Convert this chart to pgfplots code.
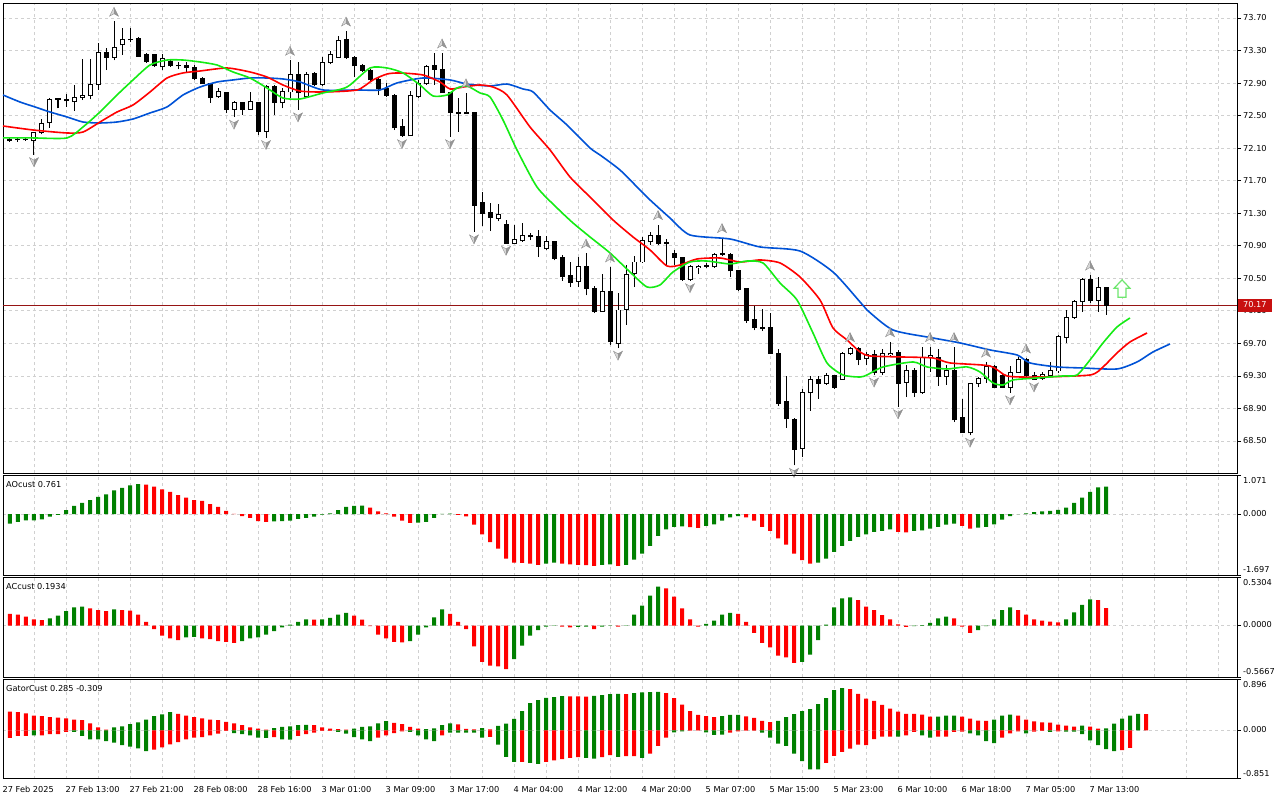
\documentclass[border=0pt]{standalone}
\usepackage{fontspec}
\setmainfont{DejaVu Sans}
\usepackage{pgfplots}
\usepackage{pgfplotstable}
\pgfplotsset{compat=1.18}

\definecolor{aogreen}{RGB}{0,128,0}
\definecolor{aored}{RGB}{255,0,0}
\definecolor{jawblue}{RGB}{0,82,214}
\definecolor{teethred}{RGB}{255,0,0}
\definecolor{lipsgreen}{RGB}{20,235,20}
\definecolor{gridgray}{RGB}{208,208,208}
\definecolor{tagred}{RGB}{200,16,16}
\definecolor{priceline}{RGB}{150,20,20}
\definecolor{fraclight}{RGB}{215,215,215}
\definecolor{fracdark}{RGB}{150,150,150}
\definecolor{fracedge}{RGB}{140,140,140}
\definecolor{arrowgreen}{RGB}{110,230,110}

\newcommand{\lbl}{\fontsize{8.2}{9.8}\selectfont}

\pgfdeclareplotmark{nothing}{}
\pgfdeclareplotmark{fup}{%
  \pgfsetfillcolor{fraclight}%
  \pgfpathmoveto{\pgfqpoint{0pt}{14pt}}%
  \pgfpathlineto{\pgfqpoint{0pt}{7.5pt}}%
  \pgfpathlineto{\pgfqpoint{-4.5pt}{5pt}}%
  \pgfpathclose\pgfusepath{fill}%
  \pgfsetfillcolor{fracdark}%
  \pgfpathmoveto{\pgfqpoint{0pt}{14pt}}%
  \pgfpathlineto{\pgfqpoint{4.5pt}{5pt}}%
  \pgfpathlineto{\pgfqpoint{0pt}{7.5pt}}%
  \pgfpathclose\pgfusepath{fill}%
  \pgfsetlinewidth{0.4pt}\pgfsetstrokecolor{fracedge}%
  \pgfpathmoveto{\pgfqpoint{0pt}{14pt}}%
  \pgfpathlineto{\pgfqpoint{4.5pt}{5pt}}%
  \pgfpathlineto{\pgfqpoint{0pt}{7.5pt}}%
  \pgfpathlineto{\pgfqpoint{-4.5pt}{5pt}}%
  \pgfpathclose\pgfusepath{stroke}%
}
\pgfdeclareplotmark{fdown}{%
  \pgfsetfillcolor{fraclight}%
  \pgfpathmoveto{\pgfqpoint{0pt}{-12pt}}%
  \pgfpathlineto{\pgfqpoint{0pt}{-5.5pt}}%
  \pgfpathlineto{\pgfqpoint{-4.5pt}{-3pt}}%
  \pgfpathclose\pgfusepath{fill}%
  \pgfsetfillcolor{fracdark}%
  \pgfpathmoveto{\pgfqpoint{0pt}{-12pt}}%
  \pgfpathlineto{\pgfqpoint{4.5pt}{-3pt}}%
  \pgfpathlineto{\pgfqpoint{0pt}{-5.5pt}}%
  \pgfpathclose\pgfusepath{fill}%
  \pgfsetlinewidth{0.4pt}\pgfsetstrokecolor{fracedge}%
  \pgfpathmoveto{\pgfqpoint{0pt}{-12pt}}%
  \pgfpathlineto{\pgfqpoint{4.5pt}{-3pt}}%
  \pgfpathlineto{\pgfqpoint{0pt}{-5.5pt}}%
  \pgfpathlineto{\pgfqpoint{-4.5pt}{-3pt}}%
  \pgfpathclose\pgfusepath{stroke}%
}
\pgfdeclareplotmark{garrow}{%
  \pgfsetlinewidth{1.2pt}%
  \pgfsetstrokecolor{arrowgreen}\pgfsetfillcolor{white}%
  \pgfpathmoveto{\pgfqpoint{0pt}{9pt}}%
  \pgfpathlineto{\pgfqpoint{8pt}{0.5pt}}%
  \pgfpathlineto{\pgfqpoint{4pt}{0.5pt}}%
  \pgfpathlineto{\pgfqpoint{4pt}{-8.5pt}}%
  \pgfpathlineto{\pgfqpoint{-4pt}{-8.5pt}}%
  \pgfpathlineto{\pgfqpoint{-4pt}{0.5pt}}%
  \pgfpathlineto{\pgfqpoint{-8pt}{0.5pt}}%
  \pgfpathclose\pgfusepath{fill,stroke}%
}

\pgfplotstableread{
i O H L C
0 72.21 72.23 72.18 72.19
1 72.20 72.23 72.18 72.21
2 72.21 72.23 72.19 72.20
3 72.19 72.30 72.02 72.29
4 72.29 72.46 72.27 72.40
5 72.41 72.72 72.35 72.70
6 72.70 72.72 72.59 72.71
7 72.70 72.77 72.61 72.68
8 72.67 72.88 72.56 72.72
9 72.72 73.20 72.69 72.75
10 72.75 73.20 72.70 72.88
11 72.88 73.39 72.82 73.28
12 73.28 73.33 73.06 73.22
13 73.22 73.66 73.18 73.34
14 73.37 73.58 73.25 73.44
15 73.44 73.58 73.40 73.43
16 73.45 73.46 73.23 73.23
17 73.25 73.27 73.15 73.16
18 73.25 73.26 73.10 73.11
19 73.10 73.26 73.06 73.20
20 73.17 73.20 73.10 73.11
21 73.11 73.16 73.07 73.11
22 73.11 73.16 73.04 73.09
23 73.09 73.12 72.94 72.95
24 72.96 72.97 72.89 72.89
25 72.89 72.89 72.66 72.72
26 72.73 72.84 72.72 72.80
27 72.78 72.79 72.53 72.58
28 72.58 72.68 72.48 72.66
29 72.66 72.67 72.51 72.58
30 72.58 72.79 72.58 72.67
31 72.66 72.67 72.26 72.31
32 72.31 72.88 72.23 72.86
33 72.86 72.88 72.51 72.66
34 72.66 72.84 72.59 72.80
35 72.79 73.18 72.72 73.00
36 73.00 73.16 72.57 72.78
37 72.73 73.04 72.72 73.01
38 73.02 73.04 72.86 72.88
39 72.88 73.22 72.86 73.15
40 73.15 73.29 73.13 73.25
41 73.22 73.48 73.21 73.42
42 73.43 73.54 73.20 73.21
43 73.22 73.23 72.97 73.11
44 73.12 73.13 73.04 73.06
45 73.06 73.07 72.91 72.94
46 72.94 72.96 72.75 72.83
47 72.83 72.90 72.73 72.75
48 72.75 72.76 72.32 72.35
49 72.37 72.46 72.24 72.26
50 72.25 72.80 72.25 72.75
51 72.73 72.94 72.72 72.89
52 72.89 73.12 72.88 73.10
53 73.11 73.27 72.88 73.07
54 73.07 73.27 72.78 72.78
55 72.78 72.79 72.24 72.54
56 72.54 72.72 72.30 72.53
57 72.53 72.78 72.52 72.54
58 72.54 72.55 71.07 71.40
59 71.43 71.56 71.14 71.30
60 71.31 71.43 71.08 71.25
61 71.24 71.41 71.20 71.28
62 71.16 71.22 70.93 70.93
63 70.93 71.16 70.93 70.98
64 70.96 71.18 70.95 71.03
65 71.03 71.06 70.97 71.01
66 71.01 71.09 70.76 70.89
67 70.86 71.02 70.85 70.95
68 70.95 70.95 70.72 70.74
69 70.76 70.79 70.47 70.52
70 70.53 70.70 70.39 70.45
71 70.46 70.76 70.39 70.64
72 70.64 70.81 70.29 70.38
73 70.38 70.41 70.07 70.09
74 70.09 70.55 70.09 70.34
75 70.34 70.64 69.68 69.72
76 69.70 70.32 69.64 70.11
77 70.12 70.66 69.93 70.55
78 70.56 70.77 70.39 70.70
79 70.70 71.01 70.69 70.96
80 70.95 71.07 70.91 71.02
81 71.03 71.16 70.91 70.93
82 70.94 70.98 70.65 70.93
83 70.81 70.85 70.66 70.75
84 70.75 70.76 70.47 70.48
85 70.48 70.66 70.47 70.64
86 70.63 70.66 70.55 70.65
87 70.65 70.69 70.63 70.66
88 70.64 70.81 70.63 70.79
89 70.79 71.00 70.77 70.80
90 70.79 70.81 70.52 70.59
91 70.60 70.60 70.34 70.36
92 70.37 70.38 69.95 69.98
93 69.99 70.16 69.86 69.89
94 69.89 70.12 69.85 69.88
95 69.89 70.07 69.58 69.58
96 69.58 69.63 68.93 68.96
97 68.98 69.30 68.66 68.77
98 68.77 68.78 68.20 68.40
99 68.41 69.14 68.30 69.09
100 69.09 69.30 68.87 69.26
101 69.25 69.30 69.02 69.21
102 69.21 69.34 69.19 69.30
103 69.30 69.31 69.14 69.16
104 69.26 69.59 69.25 69.57
105 69.57 69.66 69.56 69.64
106 69.64 69.66 69.43 69.50
107 69.51 69.59 69.43 69.56
108 69.56 69.62 69.31 69.34
109 69.34 69.63 69.31 69.57
110 69.56 69.72 69.54 69.58
111 69.59 69.62 68.92 69.21
112 69.22 69.43 69.04 69.37
113 69.37 69.40 69.04 69.10
114 69.09 69.66 69.08 69.52
115 69.52 69.66 69.35 69.55
116 69.52 69.63 69.18 69.29
117 69.29 69.43 69.19 69.37
118 69.37 69.66 68.73 68.76
119 68.79 69.02 68.60 68.60
120 68.60 69.21 68.57 69.21
121 69.21 69.29 69.16 69.27
122 69.27 69.47 69.21 69.41
123 69.41 69.43 69.15 69.16
124 69.31 69.32 69.15 69.16
125 69.16 69.42 69.09 69.34
126 69.34 69.53 69.34 69.50
127 69.50 69.52 69.29 69.31
128 69.31 69.35 69.25 69.26
129 69.27 69.35 69.25 69.32
130 69.31 69.47 69.30 69.37
131 69.36 69.80 69.34 69.78
132 69.77 70.11 69.70 70.02
133 70.02 70.23 70.00 70.21
134 70.21 70.50 70.09 70.48
135 70.48 70.54 70.20 70.23
136 70.23 70.52 70.09 70.39
137 70.39 70.39 70.05 70.17
}\candles

\pgfplotstableread{
i p
13 73.66
35 73.18
42 73.54
54 73.27
57 72.78
72 70.81
75 70.64
81 71.16
89 71.00
105 69.66
110 69.72
115 69.66
118 69.66
122 69.47
127 69.52
135 70.54
}\fracup

\pgfplotstableread{
i p
3 72.02
28 72.48
32 72.23
36 72.57
49 72.24
55 72.24
58 71.07
62 70.93
76 69.64
85 70.47
98 68.20
108 69.31
111 68.92
120 68.57
125 69.09
128 69.25
}\fracdown

\pgfplotstableread{
i p
-0.875 72.753
1.25 72.667
3.125 72.606
5 72.544
7.125 72.483
9.125 72.421
11.25 72.409
13.375 72.421
15.375 72.458
17.5 72.532
19.625 72.606
21.625 72.753
23.75 72.851
25.875 72.913
27.875 72.938
30 72.962
32.125 72.962
34.125 72.950
36.25 72.913
39.125 72.815
43.375 72.815
46.25 72.815
48.375 72.901
51.625 72.962
55 72.938
57.125 72.888
60 72.864
62.125 72.888
64.125 72.827
65.375 72.791
67.5 72.569
69.625 72.384
72.5 72.102
73.75 72.016
76.25 71.831
78.75 71.585
80 71.463
82.5 71.241
85 71.032
90 70.983
93.75 70.885
98.75 70.835
102.875 70.577
106.25 70.209
107.125 70.110
110.375 69.864
115.375 69.766
118.75 69.705
122.5 69.619
125.875 69.557
127.5 69.459
130.875 69.410
134.125 69.397
138.375 69.385
140.875 69.471
142.875 69.594
145 69.692
}\jaw

\pgfplotstableread{
i p
-0.875 72.372
2.875 72.323
7.125 72.286
9.125 72.298
11.25 72.421
13.375 72.544
15.375 72.630
17.5 72.790
19.625 72.962
21.625 73.024
23.75 73.048
27.125 73.085
30 73.036
32.125 72.974
34.125 72.876
36.25 72.802
39.125 72.790
43.375 72.815
45.375 72.938
47.125 73.011
48.75 73.024
51.625 72.999
53.75 72.913
55 72.827
56.625 72.851
58.75 72.876
60.375 72.851
62.125 72.753
65 72.360
67.5 72.078
70 71.745
72.5 71.499
75.375 71.217
77.875 71.008
80 70.848
82.125 70.651
83.75 70.663
85.875 70.737
88.75 70.749
91.25 70.700
93.75 70.725
96.25 70.688
98.75 70.516
101.25 70.233
102.875 69.889
104.625 69.742
106.25 69.594
107.5 69.545
111.25 69.533
115.375 69.520
117.5 69.459
122.5 69.422
124.625 69.299
128.375 69.286
135 69.311
136.625 69.410
138.375 69.582
140 69.717
142.125 69.827
}\teeth

\pgfplotstableread{
i p
-0.875 72.225
2.875 72.225
7.125 72.225
9.125 72.360
11.25 72.544
13.375 72.753
15.375 72.938
17.5 73.122
19.625 73.183
21.625 73.183
23.75 73.159
25.875 73.122
27.875 73.036
30 72.962
32.125 72.839
34.125 72.716
36.25 72.704
39.125 72.778
42.125 72.851
45 73.085
47.125 73.085
49.125 73.024
51.25 72.876
52.875 72.741
54.625 72.753
55.875 72.839
57.125 72.864
58.75 72.778
60 72.729
61.625 72.446
63.375 72.077
65.875 71.622
68.375 71.365
70.375 71.180
72.5 71.008
75 70.811
77.5 70.577
79.625 70.393
81.25 70.418
82.875 70.577
85 70.700
87.125 70.712
90 70.676
92.125 70.712
94.125 70.688
96.25 70.442
98.375 70.233
100.375 69.827
102.125 69.459
104.125 69.311
106.25 69.286
107.125 69.311
109.125 69.410
112.875 69.471
114.625 69.410
117.125 69.385
119.625 69.410
121.25 69.348
122.875 69.213
124.125 69.188
125.375 69.250
128.375 69.274
131.625 69.299
133.375 69.311
135 69.496
136.625 69.705
138.375 69.901
140 70.012
}\lips

\pgfplotstableread{
i v c
0 -0.26 1
1 -0.21 1
2 -0.17 1
3 -0.17 1
4 -0.14 1
5 -0.07 1
6 -0.02 1
7 0.11 1
8 0.23 1
9 0.31 1
10 0.39 1
11 0.48 1
12 0.55 1
13 0.66 1
14 0.73 1
15 0.80 1
16 0.83 1
17 0.82 0
18 0.76 0
19 0.69 0
20 0.62 0
21 0.53 0
22 0.46 0
23 0.39 0
24 0.37 0
25 0.28 0
26 0.20 0
27 0.09 0
28 0.01 0
29 -0.05 0
30 -0.10 0
31 -0.19 0
32 -0.21 0
33 -0.20 1
34 -0.19 1
35 -0.18 1
36 -0.13 1
37 -0.10 1
38 -0.07 1
39 -0.01 1
40 0.02 1
41 0.11 1
42 0.20 1
43 0.23 1
44 0.24 1
45 0.18 0
46 0.08 0
47 0.02 0
48 -0.07 0
49 -0.18 0
50 -0.24 0
51 -0.23 1
52 -0.21 1
53 -0.10 1
54 0.01 1
55 0.015 1
56 -0.02 0
57 -0.06 0
58 -0.29 0
59 -0.56 0
60 -0.77 0
61 -0.95 0
62 -1.23 0
63 -1.34 0
64 -1.35 0
65 -1.37 0
66 -1.40 0
67 -1.37 1
68 -1.34 1
69 -1.37 0
70 -1.39 0
71 -1.40 0
72 -1.41 0
73 -1.43 0
74 -1.40 1
75 -1.39 1
76 -1.43 0
77 -1.40 1
78 -1.26 1
79 -1.09 1
80 -0.88 1
81 -0.60 1
82 -0.42 1
83 -0.35 1
84 -0.34 1
85 -0.36 0
86 -0.38 0
87 -0.32 1
88 -0.28 1
89 -0.18 1
90 -0.09 1
91 -0.05 1
92 -0.09 0
93 -0.18 0
94 -0.35 0
95 -0.46 0
96 -0.67 0
97 -0.84 0
98 -1.09 0
99 -1.27 0
100 -1.37 0
101 -1.34 1
102 -1.23 1
103 -1.04 1
104 -0.88 1
105 -0.74 1
106 -0.63 1
107 -0.56 1
108 -0.49 1
109 -0.46 1
110 -0.42 1
111 -0.49 0
112 -0.50 0
113 -0.46 1
114 -0.45 1
115 -0.40 1
116 -0.35 1
117 -0.29 1
118 -0.26 1
119 -0.32 0
120 -0.40 0
121 -0.37 1
122 -0.35 1
123 -0.28 1
124 -0.15 1
125 -0.05 1
126 0.005 1
127 0.02 1
128 0.06 1
129 0.08 1
130 0.09 1
131 0.12 1
132 0.18 1
133 0.31 1
134 0.46 1
135 0.62 1
136 0.745 1
137 0.761 1
}\ao

\pgfplotstableread{
i v c
0 0.13 0
1 0.12 0
2 0.10 0
3 0.07 0
4 0.06 0
5 0.08 1
6 0.11 1
7 0.16 1
8 0.20 1
9 0.21 1
10 0.19 0
11 0.17 0
12 0.16 0
13 0.18 1
14 0.17 0
15 0.165 0
16 0.12 0
17 0.04 0
18 -0.04 0
19 -0.11 0
20 -0.14 0
21 -0.16 0
22 -0.13 1
23 -0.125 1
24 -0.14 0
25 -0.15 0
26 -0.17 0
27 -0.18 0
28 -0.19 0
29 -0.17 1
30 -0.14 1
31 -0.13 1
32 -0.10 1
33 -0.06 1
34 -0.02 1
35 0.01 1
36 0.04 1
37 0.07 1
38 0.065 0
39 0.07 1
40 0.085 1
41 0.12 1
42 0.14 1
43 0.11 0
44 0.065 0
45 -0.005 0
46 -0.10 0
47 -0.14 0
48 -0.18 0
49 -0.185 0
50 -0.17 1
51 -0.10 1
52 -0.02 1
53 0.09 1
54 0.18 1
55 0.13 0
56 0.04 0
57 -0.04 0
58 -0.23 0
59 -0.40 0
60 -0.44 0
61 -0.45 0
62 -0.48 0
63 -0.37 1
64 -0.22 1
65 -0.11 1
66 -0.05 1
67 -0.01 1
68 0.003 1
69 -0.01 0
70 -0.02 0
71 -0.015 1
72 -0.012 1
73 -0.04 0
74 -0.01 1
75 0.003 1
76 -0.01 0
77 0.003 1
78 0.12 1
79 0.22 1
80 0.33 1
81 0.43 1
82 0.41 0
83 0.32 0
84 0.19 0
85 0.07 0
86 -0.01 0
87 0.02 1
88 0.055 1
89 0.12 1
90 0.14 1
91 0.13 0
92 0.04 0
93 -0.08 0
94 -0.19 0
95 -0.24 0
96 -0.33 0
97 -0.35 0
98 -0.41 0
99 -0.40 1
100 -0.32 1
101 -0.16 1
102 0.01 1
103 0.20 1
104 0.30 1
105 0.31 1
106 0.28 0
107 0.21 0
108 0.17 0
109 0.115 0
110 0.07 0
111 0.015 0
112 -0.015 0
113 -0.005 1
114 0.005 1
115 0.03 1
116 0.08 1
117 0.10 1
118 0.08 0
119 -0.01 0
120 -0.08 0
121 -0.05 1
122 -0.005 1
123 0.07 1
124 0.17 1
125 0.20 1
126 0.17 0
127 0.12 0
128 0.07 0
129 0.055 0
130 0.045 0
131 0.035 0
132 0.07 1
133 0.145 1
134 0.23 1
135 0.29 1
136 0.28 0
137 0.1934 0
}\ac

\pgfplotstableread{
i v c
0 0.33 0
1 0.32 0
2 0.30 0
3 0.26 0
4 0.25 0
5 0.23 0
6 0.225 0
7 0.21 0
8 0.19 0
9 0.18 0
10 0.12 0
11 0.05 0
12 0.01 0
13 0.05 1
14 0.07 1
15 0.11 1
16 0.14 1
17 0.19 1
18 0.25 1
19 0.28 1
20 0.32 1
21 0.29 0
22 0.26 0
23 0.23 0
24 0.21 0
25 0.19 0
26 0.18 0
27 0.15 0
28 0.12 0
29 0.09 0
30 0.05 0
31 0.03 0
32 0.01 0
33 0.04 1
34 0.06 1
35 0.07 1
36 0.09 1
37 0.095 1
38 0.09 0
39 0.05 0
40 0.03 0
41 0.02 0
42 0.01 0
43 0.03 1
44 0.06 1
45 0.07 1
46 0.12 1
47 0.16 1
48 0.13 0
49 0.11 0
50 0.06 0
51 0.03 0
52 0.02 1
53 0.035 1
54 0.09 1
55 0.12 1
56 0.105 0
57 0.023 0
58 0.018 0
59 0.04 1
60 0.018 0
61 0.076 1
62 0.117 1
63 0.20 1
64 0.34 1
65 0.48 1
66 0.53 1
67 0.57 1
68 0.586 1
69 0.603 1
70 0.60 0
71 0.598 0
72 0.596 0
73 0.605 1
74 0.62 1
75 0.64 1
76 0.642 1
77 0.638 0
78 0.656 1
79 0.668 1
80 0.674 1
81 0.676 1
82 0.656 0
83 0.568 0
84 0.451 0
85 0.34 0
86 0.27 0
87 0.25 0
88 0.234 0
89 0.25 1
90 0.27 1
91 0.272 1
92 0.246 0
93 0.217 0
94 0.164 0
95 0.146 0
96 0.164 1
97 0.234 1
98 0.287 1
99 0.34 1
100 0.375 1
101 0.463 1
102 0.568 1
103 0.709 1
104 0.744 1
105 0.726 0
106 0.644 0
107 0.557 0
108 0.52 0
109 0.45 0
110 0.38 0
111 0.33 0
112 0.29 0
113 0.288 0
114 0.275 0
115 0.24 0
116 0.242 1
117 0.258 1
118 0.26 1
119 0.24 0
120 0.205 0
121 0.17 0
122 0.168 0
123 0.187 1
124 0.258 1
125 0.275 1
126 0.258 0
127 0.187 0
128 0.158 0
129 0.14 0
130 0.135 0
131 0.10 0
132 0.082 0
133 0.064 0
134 0.082 1
135 0.064 0
136 0.03 0
137 0.032 1
138 0.117 1
139 0.205 1
140 0.258 1
141 0.29 1
142 0.285 0
}\gup

\pgfplotstableread{
i v c
0 -0.135 0
1 -0.10 0
2 -0.10 0
3 -0.09 1
4 -0.09 0
5 -0.07 0
6 -0.07 0
7 -0.03 0
8 -0.03 1
9 -0.10 1
10 -0.16 1
11 -0.16 1
12 -0.19 1
13 -0.22 1
14 -0.26 1
15 -0.29 1
16 -0.32 1
17 -0.37 1
18 -0.34 0
19 -0.30 0
20 -0.25 0
21 -0.21 0
22 -0.16 0
23 -0.13 0
24 -0.12 0
25 -0.09 0
26 -0.06 0
27 -0.01 0
28 -0.05 1
29 -0.07 1
30 -0.09 1
31 -0.13 1
32 -0.135 1
33 -0.12 0
34 -0.16 1
35 -0.165 1
36 -0.10 0
37 -0.07 0
38 -0.04 0
39 -0.01 0
40 -0.01 0
41 -0.03 1
42 -0.06 1
43 -0.12 1
44 -0.16 1
45 -0.19 1
46 -0.13 0
47 -0.09 0
48 -0.05 0
49 -0.02 0
50 -0.03 1
51 -0.09 1
52 -0.16 1
53 -0.19 1
54 -0.09 0
55 -0.04 1
56 -0.041 1
57 -0.041 1
58 -0.041 1
59 -0.129 1
60 -0.117 0
61 -0.252 1
62 -0.469 1
63 -0.557 1
64 -0.556 0
65 -0.574 1
66 -0.592 1
67 -0.557 0
68 -0.533 0
69 -0.51 0
70 -0.486 0
71 -0.475 0
72 -0.486 1
73 -0.498 1
74 -0.475 0
75 -0.44 0
76 -0.469 1
77 -0.457 0
78 -0.456 0
79 -0.486 1
80 -0.41 0
81 -0.275 0
82 -0.129 0
83 -0.035 1
84 -0.018 1
85 -0.006 0
86 -0.003 0
87 -0.035 1
88 -0.082 1
89 -0.076 1
90 -0.041 0
91 -0.018 0
92 -0.006 0
93 -0.006 0
94 -0.041 1
95 -0.129 1
96 -0.234 1
97 -0.275 1
98 -0.41 1
99 -0.545 1
100 -0.691 1
101 -0.692 1
102 -0.574 0
103 -0.451 0
104 -0.381 0
105 -0.322 0
106 -0.252 0
107 -0.264 0
108 -0.158 0
109 -0.11 0
110 -0.11 0
111 -0.11 1
112 -0.088 0
113 -0.03 0
114 -0.088 1
115 -0.13 1
116 -0.11 0
117 -0.11 0
118 -0.03 0
119 -0.023 0
120 -0.053 1
121 -0.088 1
122 -0.193 1
123 -0.228 1
124 -0.129 0
125 -0.053 0
126 -0.018 0
127 -0.053 1
128 -0.023 0
129 -0.012 0
130 -0.03 1
131 -0.018 0
132 -0.023 1
133 -0.023 1
134 -0.07 1
135 -0.176 1
136 -0.264 1
137 -0.334 1
138 -0.369 1
139 -0.35 0
140 -0.309 0
}\gdown

\pgfplotsset{
  panel/.style={
    scale only axis, width=1234pt, anchor=north west,
    xmin=-0.875, xmax=153.375,
    axis line style={line width=0.8pt, black},
    grid style={dash pattern=on 3pt off 3pt, color=gridgray, line width=0.7pt},
    minor grid style={dash pattern=on 3pt off 3pt, color=gridgray, line width=0.7pt},
    major grid style={dash pattern=on 3pt off 3pt, color=gridgray, line width=0.7pt},
    xtick={3,7,...,151}, xticklabels={}, xmajorgrids,
    xtick style={draw=none},
    ytick pos=right, yticklabel pos=right,
    tick align=outside, major tick length=4pt,
    ytick style={black, line width=0.6pt},
    tick label style={font=\lbl},
    /pgf/number format/assume math mode=true,
  },
  histbar/.style={ybar, bar width=4pt, bar shift=0pt, draw=none, forget plot},
  errseg/.style={only marks, mark=nothing, forget plot},
}

\begin{document}
\begin{tikzpicture}
\useasboundingbox (0,0) rectangle (1280pt,-800pt);

% ---------------- main price panel ----------------
\begin{axis}[panel, at={(3pt,-3pt)}, height=470pt,
  ymin=68.106, ymax=73.884,
  ytick={68.50,68.90,69.30,69.70,70.10,70.50,70.90,71.30,71.70,72.10,72.50,72.90,73.30,73.70},
  yticklabels={68.50,68.90,69.30,69.70,70.10,70.50,70.90,71.30,71.70,72.10,72.50,72.90,73.30,73.70},
  ymajorgrids,
  yticklabel style={anchor=west, inner sep=0pt, xshift=2pt},
]
\addplot[priceline, line width=0.8pt, forget plot] coordinates {(-0.875,70.17) (153.375,70.17)};
% wicks
\addplot[errseg,
  error bars/.cd, y dir=plus, y explicit, error mark=none,
  error bar style={black, line width=1pt, solid}]
  table[x=i, y=L, y error plus expr={\thisrow{H}-\thisrow{L}}] {\candles};
% bodies (outer black)
\addplot[errseg,
  error bars/.cd, y dir=plus, y explicit, error mark=none,
  error bar style={black, line width=5pt, solid, line cap=butt}]
  table[x=i, y expr={min(\thisrow{O},\thisrow{C})-0.006}, y error plus expr={abs(\thisrow{C}-\thisrow{O})+0.012}] {\candles};
% bodies (white inside for rising candles)
\addplot[errseg,
  restrict expr to domain={\thisrow{C}-\thisrow{O}}{0.0125:10},
  error bars/.cd, y dir=plus, y explicit, error mark=none,
  error bar style={white, line width=3pt, solid, line cap=butt}]
  table[x=i, y expr={\thisrow{O}+0.006}, y error plus expr={\thisrow{C}-\thisrow{O}-0.012}] {\candles};
% alligator
\addplot[jawblue, line width=1.6pt, smooth, tension=0.4, mark=none] table[x=i,y=p] {\jaw};
\addplot[teethred, line width=1.6pt, smooth, tension=0.4, mark=none] table[x=i,y=p] {\teeth};
\addplot[lipsgreen, line width=1.6pt, smooth, tension=0.4, mark=none] table[x=i,y=p] {\lips};
% fractals
\addplot[only marks, mark=fup] table[x=i,y=p] {\fracup};
\addplot[only marks, mark=fdown] table[x=i,y=p] {\fracdown};
% signal arrow
\addplot[only marks, mark=garrow] coordinates {(139,70.37)};
\end{axis}

% ---------------- AO panel ----------------
\begin{axis}[panel, at={(3pt,-475.5pt)}, height=100pt,
  ymin=-1.697, ymax=1.071, ytick={-1.697,0,1.071}, yticklabels={}, ymajorgrids]
\addplot[histbar, fill=aogreen, restrict expr to domain={\thisrow{c}}{0.5:1.5}] table[x=i,y=v] {\ao};
\addplot[histbar, fill=aored, restrict expr to domain={\thisrow{c}}{-0.5:0.5}] table[x=i,y=v] {\ao};
\end{axis}

% ---------------- AC panel ----------------
\begin{axis}[panel, at={(3pt,-577.5pt)}, height=99.5pt,
  ymin=-0.5667, ymax=0.5304, ytick={-0.5667,0,0.5304}, yticklabels={}, ymajorgrids]
\addplot[histbar, fill=aogreen, restrict expr to domain={\thisrow{c}}{0.5:1.5}] table[x=i,y=v] {\ac};
\addplot[histbar, fill=aored, restrict expr to domain={\thisrow{c}}{-0.5:0.5}] table[x=i,y=v] {\ac};
\end{axis}

% ---------------- Gator panel ----------------
\begin{axis}[panel, at={(3pt,-679.5pt)}, height=99pt,
  ymin=-0.851, ymax=0.896, ytick={-0.851,0,0.896}, yticklabels={}, ymajorgrids,
  xtick={-0.875,7,15,23,31,39,47,55,63,71,79,87,95,103,111,119,127,135},
  minor xtick={3,11,...,151}, xminorgrids,
  xtick pos=bottom,
  xtick style={black, line width=0.6pt},
  minor tick length=0pt,
  xticklabels={27 Feb 2025,27 Feb 13:00,27 Feb 21:00,28 Feb 08:00,28 Feb 16:00,3 Mar 01:00,3 Mar 09:00,3 Mar 17:00,4 Mar 04:00,4 Mar 12:00,4 Mar 20:00,5 Mar 07:00,5 Mar 15:00,5 Mar 23:00,6 Mar 10:00,6 Mar 18:00,7 Mar 05:00,7 Mar 13:00},
  xticklabel style={anchor=north west, inner sep=0pt, xshift=-0.5pt, yshift=-3.5pt},
]
\addplot[histbar, fill=aogreen, restrict expr to domain={\thisrow{c}}{0.5:1.5}] table[x=i,y=v] {\gup};
\addplot[histbar, fill=aored, restrict expr to domain={\thisrow{c}}{-0.5:0.5}] table[x=i,y=v] {\gup};
\addplot[histbar, fill=aogreen, restrict expr to domain={\thisrow{c}}{0.5:1.5}] table[x=i,y=v] {\gdown};
\addplot[histbar, fill=aored, restrict expr to domain={\thisrow{c}}{-0.5:0.5}] table[x=i,y=v] {\gdown};
\end{axis}

% ---------------- texts ----------------
\node[anchor=west, inner sep=0pt, font=\lbl] at (6pt,-484.3pt) {AOcust 0.761};
\node[anchor=west, inner sep=0pt, font=\lbl] at (6pt,-586.7pt) {ACcust 0.1934};
\node[anchor=west, inner sep=0pt, font=\lbl] at (6pt,-688.7pt) {GatorCust 0.285 -0.309};

\node[anchor=west, inner sep=0pt, font=\lbl] at (1243pt,-480.3pt) {1.071};
\node[anchor=west, inner sep=0pt, font=\lbl] at (1243pt,-513.8pt) {0.000};
\node[anchor=west, inner sep=0pt, font=\lbl] at (1243pt,-569.3pt) {-1.697};
\node[anchor=west, inner sep=0pt, font=\lbl] at (1243pt,-582.3pt) {0.5304};
\node[anchor=west, inner sep=0pt, font=\lbl] at (1243pt,-624.8pt) {0.0000};
\node[anchor=west, inner sep=0pt, font=\lbl] at (1243pt,-671.3pt) {-0.5667};
\node[anchor=west, inner sep=0pt, font=\lbl] at (1243pt,-684.3pt) {0.896};
\node[anchor=west, inner sep=0pt, font=\lbl] at (1243pt,-729.5pt) {0.000};
\node[anchor=west, inner sep=0pt, font=\lbl] at (1243pt,-773.7pt) {-0.851};

\node[anchor=west, fill=tagred, text=white, inner sep=0pt, minimum width=34pt, minimum height=13pt, font=\lbl] at (1237.6pt,-305pt) {70.17};
\end{tikzpicture}
\end{document}
